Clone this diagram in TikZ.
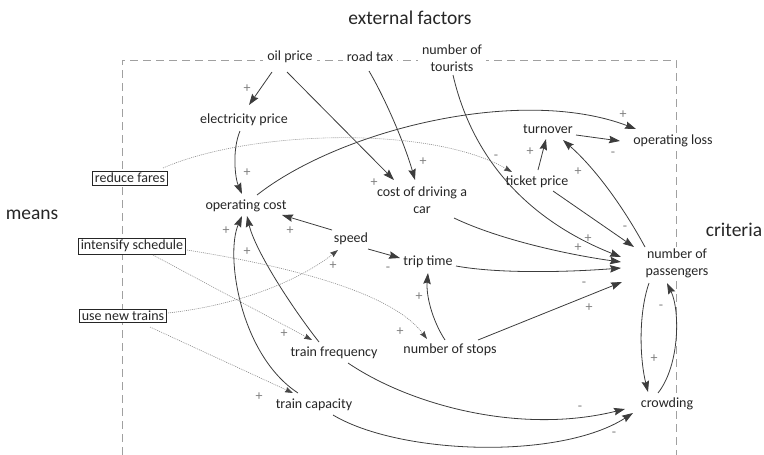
\documentclass[tikz,border=0pt]{standalone}
\usepackage{fontspec}
\setmainfont{Carlito}
\usetikzlibrary{arrows.meta,calc}
\definecolor{ink}{HTML}{262626}
\definecolor{framec}{HTML}{A0A0A0}
\definecolor{signc}{HTML}{808080}
\definecolor{dotc}{HTML}{8C8C8C}
\begin{document}
\begin{tikzpicture}[x=1pt,y=-1pt,
  lbl/.style={font=\fontsize{14}{17}\selectfont, text=ink, fill=white, inner xsep=4pt, inner ysep=1pt, align=center},
  box/.style={font=\fontsize{14}{17}\selectfont, text=ink, draw=ink, line width=0.8pt, fill=white, inner xsep=2pt, inner ysep=2pt},
  big/.style={font=\fontsize{19.5}{22}\selectfont, text=ink},
  sg/.style={font=\fontsize{14}{14}\selectfont, text=signc, inner sep=0pt},
  lnk/.style={draw=ink!90, line width=0.8pt, -{Stealth[length=11pt,width=7.5pt,inset=1.5pt]}},
  dlnk/.style={draw=dotc, line width=0.6pt, dash pattern=on 1pt off 1pt, -{Stealth[length=8pt,width=5.5pt,inset=1pt,color=ink!85]}},
]
\useasboundingbox (0,0) rectangle (764,455);
% frame
\draw[framec, line width=1pt, dash pattern=on 8pt off 5pt] (122,455) -- (122,60) -- (676,60) -- (676,455);

% titles
\node[big] (ext) at (410,18) {external factors};
\node[big] (means) at (32,215) {means};
\node[big] (crit) at (734,230) {criteria};

% nodes
\node[lbl] (oil) at (290,57) {oil price};
\node[lbl] (tax) at (370,57) {road tax};
\node[lbl] (tour) at (452,58) {number of\\tourists};
\node[lbl] (elec) at (244,120) {electricity price};
\node[lbl] (opc) at (246,206) {operating cost};
\node[lbl] (car) at (422,200) {cost of driving a\\car};
\node[lbl] (speed) at (351,239) {speed};
\node[lbl] (trip) at (428,262) {trip time};
\node[lbl] (stops) at (450,350) {number of stops};
\node[lbl] (freq) at (334,353) {train frequency};
\node[lbl] (cap) at (314,405) {train capacity};
\node[lbl] (crowd) at (667,404) {crowding};
\node[lbl] (pass) at (677,263) {number of\\passengers};
\node[lbl] (ticket) at (537,182) {ticket price};
\node[lbl] (turn) at (548,129) {turnover};
\node[lbl] (loss) at (673,141) {operating loss};
\node[box] (fares) at (130,178) {reduce fares};
\node[box] (sched) at (132,246) {intensify schedule};
\node[box] (newtr) at (123,316) {use new trains};

% solid links
\draw[lnk] ($(oil)+(-18,15)$) -- ($(elec)+(5,-15)$);
\draw[lnk] ($(oil)+(-3,15)$) -- ($(car)+(-28,-20)$);
\draw[lnk] ($(tax)+(-1,14)$) .. controls (386,100) and (405,145) .. ($(car)+(-7,-20)$);
\draw[lnk] ($(tour)+(1,17)$) .. controls (475,170) and (540,225) .. ($(pass)+(-56,-6)$);
\draw[lnk] ($(car)+(32,18)$) .. controls (500,240) and (570,255) .. ($(pass)+(-56,-1)$);
\draw[lnk] ($(trip)+(28,4)$) .. controls (500,274) and (570,272) .. ($(pass)+(-56,5)$);
\draw[lnk] ($(ticket)+(16,9)$) -- ($(pass)+(-43,-16)$);
\draw[lnk] ($(pass)+(-32,-16)$) .. controls (625,210) and (597,170) .. ($(turn)+(15,11)$);
\draw[lnk] ($(ticket)+(1,-12)$) -- ($(turn)+(-2,10)$);
\draw[lnk] ($(turn)+(28,6)$) -- ($(loss)+(-53,0)$);
\draw[lnk] ($(opc)+(11,-11)$) .. controls (340,130) and (520,85) .. ($(loss)+(-37,-12)$);
\draw[lnk] ($(elec)+(-4,11)$) .. controls (232,150) and (235,178) .. ($(opc)+(-4,-12)$);
\draw[lnk] ($(speed)+(-19,-9)$) -- ($(opc)+(36,9)$);
\draw[lnk] ($(speed)+(17,10)$) -- ($(trip)+(-28,-4)$);
\draw[lnk] ($(stops)+(-5,-10)$) .. controls (432,320) and (426,295) .. ($(trip)+(0,11)$);
\draw[lnk] ($(stops)+(28,-10)$) -- ($(pass)+(-55,19)$);
\draw[lnk] ($(freq)+(-15,-11)$) .. controls (290,305) and (255,250) .. ($(opc)+(1,10)$);
\draw[lnk] ($(cap)+(-16,-12)$) .. controls (240,355) and (225,255) .. ($(opc)+(-4,10)$);
\draw[lnk] ($(freq)+(14,10)$) .. controls (410,405) and (520,435) .. ($(crowd)+(-42,5)$);
\draw[lnk] ($(cap)+(19,10)$) .. controls (400,455) and (560,460) .. ($(crowd)+(-34,9)$);
\draw[lnk] ($(pass)+(-28,20)$) .. controls (638,315) and (640,360) .. ($(crowd)+(-19,-12)$);
\draw[lnk] ($(crowd)+(-9,-11)$) .. controls (680,365) and (680,310) .. ($(pass)+(-10,20)$);

% dotted links
\draw[dlnk] ($(fares)+(33,-10)$) .. controls (250,130) and (430,125) .. ($(ticket)+(-25,-10)$);
\draw[dlnk] ($(sched)+(55,4)$) .. controls (280,265) and (390,290) .. ($(stops)+(-23,-11)$);
\draw[dlnk] ($(sched)+(21,9)$) -- ($(freq)+(-22,-13)$);
\draw[dlnk] ($(newtr)+(45,-3)$) .. controls (240,305) and (300,280) .. ($(speed)+(-13,11)$);
\draw[dlnk] ($(newtr)+(27,11)$) -- ($(cap)+(-21,-12)$);

% signs
\node[sg] (s1) at (247,89) {+};
\node[sg] (s2) at (247,173) {+};
\node[sg] (s3) at (374,183) {+};
\node[sg] (s4) at (423,162) {+};
\node[sg] (s5) at (496,157) {-};
\node[sg] (s6) at (530,152) {+};
\node[sg] (s7) at (578,172) {+};
\node[sg] (s8) at (623,115) {+};
\node[sg] (s9) at (613,154) {-};
\node[sg] (s10) at (625,228) {-};
\node[sg] (s11) at (588,239) {+};
\node[sg] (s12) at (578,248) {+};
\node[sg] (s13) at (584,284) {-};
\node[sg] (s14) at (589,308) {+};
\node[sg] (s15) at (226,231) {+};
\node[sg] (s16) at (290,231) {+};
\node[sg] (s17) at (247,252) {+};
\node[sg] (s18) at (388,269) {-};
\node[sg] (s19) at (333,266) {+};
\node[sg] (s20) at (419,297) {+};
\node[sg] (s21) at (284,334) {+};
\node[sg] (s22) at (400,332) {+};
\node[sg] (s23) at (259,397) {+};
\node[sg] (s24) at (580,408) {-};
\node[sg] (s25) at (614,434) {-};
\node[sg] (s26) at (654,359) {+};
\node[sg] (s27) at (661,307) {-};
\end{tikzpicture}
\end{document}
